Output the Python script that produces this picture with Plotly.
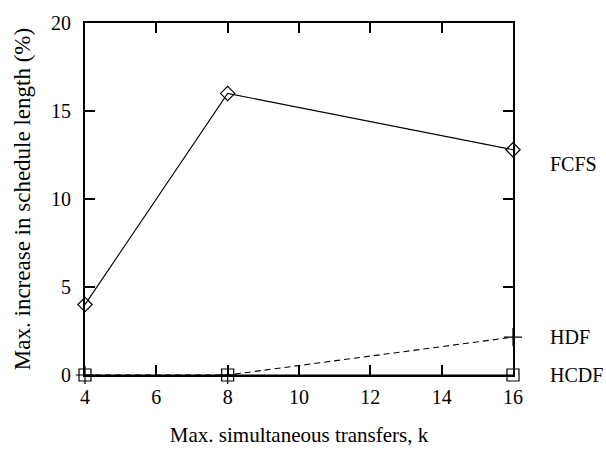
import plotly.graph_objects as go

# Max. simultaneous transfers (k)
k_values = [4, 8, 16]

# Max. increase in schedule length (%) per policy
fcfs = [4.0, 16.0, 12.8]
hdf = [0.0, 0.0, 2.15]
hcdf = [0.0, 0.0, 0.0]

x_ticks = [4, 6, 8, 10, 12, 14, 16]
y_ticks = [0, 5, 10, 15, 20]

# Series name labels and the y position where each is written
series_labels = ["FCFS", "HDF", "HCDF"]
label_y = [12.0, 2.15, 0.0]

FONT = "'Liberation Serif', 'Times New Roman', Times, serif"

fig = go.Figure()

fig.add_trace(go.Scatter(
    x=k_values, y=fcfs, mode="lines+markers", name="FCFS",
    line=dict(color="black", width=1.1),
    marker=dict(symbol="diamond-open", size=11, color="black", line=dict(width=1.2)),
    cliponaxis=False,
))
fig.add_trace(go.Scatter(
    x=k_values, y=hdf, mode="lines+markers", name="HDF",
    line=dict(color="black", width=1.1, dash="6px,4px"),
    marker=dict(symbol="cross-thin-open", size=13, color="black", line=dict(width=1.2, color="black")),
    cliponaxis=False,
))
fig.add_trace(go.Scatter(
    x=k_values, y=hcdf, mode="lines+markers", name="HCDF",
    line=dict(color="black", width=1.1),
    marker=dict(symbol="square-open", size=12, color="black", line=dict(width=1.2)),
    cliponaxis=False,
))

# Series labels to the right of the plot area
for text, yv in zip(series_labels, label_y):
    fig.add_annotation(
        x=1, xref="paper", y=yv, yref="y", text=text, showarrow=False,
        xanchor="left", yanchor="middle", xshift=35,
        font=dict(family=FONT, size=20, color="black"),
    )

axis_common = dict(
    showgrid=False, zeroline=False, showline=True, linecolor="black", linewidth=2,
    mirror="allticks", ticks="inside", ticklen=10, tickwidth=2, tickcolor="black",
    tickfont=dict(family=FONT, size=20, color="black"),
)

fig.update_layout(
    width=606, height=455,
    margin=dict(l=85, r=93, t=19, b=80),
    paper_bgcolor="white", plot_bgcolor="white",
    showlegend=False,
    font=dict(family=FONT, size=20, color="black"),
    xaxis=dict(
        range=[4, 16], tickvals=x_ticks, ticklabelstandoff=3,
        title=dict(text="Max. simultaneous transfers, k", standoff=20,
                   font=dict(family=FONT, size=21, color="black")),
        **axis_common,
    ),
    yaxis=dict(
        range=[0, 20], tickvals=y_ticks, ticklabelstandoff=8,
        title=dict(text="Max. increase in schedule length (%)", standoff=14,
                   font=dict(family=FONT, size=23, color="black")),
        **axis_common,
    ),
)

fig.write_html("out.html")
